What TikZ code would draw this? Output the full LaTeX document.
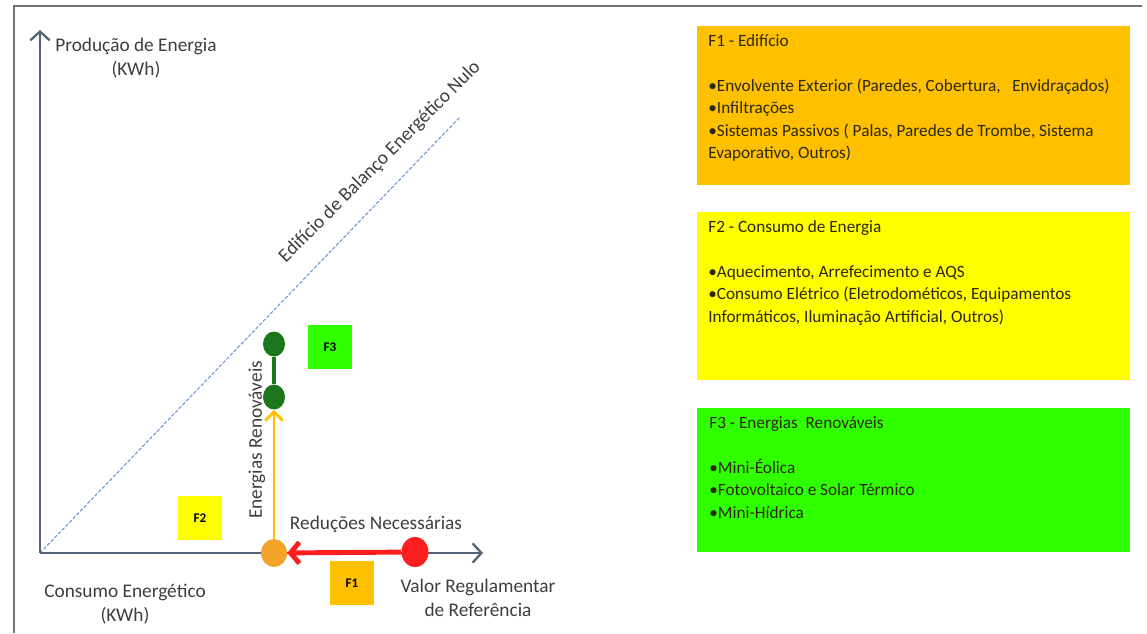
\documentclass[tikz,border=0pt]{standalone}
\usepackage{fontspec}
\setmainfont{Carlito}
\usepackage{tikz}
\usetikzlibrary{positioning, arrows.meta, shapes.geometric}
\definecolor{framegray}{RGB}{115,115,115}
\definecolor{axisgray}{RGB}{84,98,118}
\definecolor{diagblue}{RGB}{105,150,210}
\definecolor{labelgray}{RGB}{62,62,62}
\definecolor{fone}{RGB}{255,192,0}
\definecolor{ftwo}{RGB}{255,255,0}
\definecolor{fthree}{RGB}{48,255,0}
\definecolor{dotorange}{RGB}{242,165,40}
\definecolor{dotred}{RGB}{250,30,30}
\definecolor{dotgreen}{RGB}{28,118,28}
\definecolor{boxink}{RGB}{45,40,10}
\tikzset{
  axis/.style={draw=axisgray, line width=1.3pt, -{Straight Barb[length=5pt, width=11pt]}},
  diag/.style={draw=diagblue, line width=0.6pt, dashed, dash pattern=on 2pt off 1pt},
  dot/.style={ellipse, inner sep=0pt, draw=none},
  label/.style={text=labelgray, font=\fontsize{11}{13.5}\selectfont, align=center, inner sep=0pt},
  fbox/.style={rectangle, minimum size=0.88cm, inner sep=0pt, font=\fontsize{7.5}{8}\selectfont\bfseries},
  infobox/.style={rectangle, anchor=north west, minimum width=8.66cm, inner sep=0pt},
  infotext/.style={text=boxink, align=left, inner sep=0pt, font=\fontsize{9.8}{12.8}\selectfont},
}

\begin{document}
\begin{tikzpicture}[x=0.02cm, y=-0.02cm]
  \useasboundingbox (0,0) rectangle (1147,633);
  % frame
  \draw[framegray, line width=1.6pt] (14,633) -- (14,6) -- (1142,6);

  % axes
  \coordinate (O) at (40,553);
  \coordinate (ytop) at (40,30);
  \coordinate (xend) at (483,553);
  \coordinate (dtop) at (460,117);
  \draw[diag] (O) -- (dtop);
  \draw[axis] (O) -- (ytop);
  \draw[axis] (O) -- (xend);
  \node[label] (ylab) at (136,58) {Produção de Energia\\(KWh)};
  \node[label] (xlab) at (125,604) {Consumo Energético\\(KWh)};
  \node[label, rotate=45] (diaglab) at (380,162) {Edifício de Balanço Energético Nulo};

  % points
  \node[dot, fill=dotorange, minimum width=0.52cm, minimum height=0.56cm] (atual) at (274,553) {};
  \node[dot, fill=dotred, minimum width=0.54cm, minimum height=0.6cm] (regul) at (415,552) {};
  \node[dot, fill=dotgreen, minimum width=0.44cm, minimum height=0.5cm] (verdeA) at (274,397) {};
  \node[dot, fill=dotgreen, minimum width=0.44cm, minimum height=0.5cm] (verdeB) at (274,344) {};
  \draw[dotred, line width=2.8pt, -{Straight Barb[length=5pt, width=12pt]}] (regul) -- (atual);
  \draw[fone, line width=1.6pt, -{Straight Barb[length=5pt, width=10pt]}] (atual) -- (verdeA);
  \draw[dotgreen, line width=2.4pt] (verdeA) -- (verdeB);

  \node[label, rotate=90] (renov) at (257,440) {Energias Renováveis};
  \node[label] (reduc) at (376,524) {Reduções Necessárias};
  \node[label] (valor) at (478,598) {Valor Regulamentar\\de Referência};

  % small tags
  \node[fbox, fill=fone] (tagF1) at (352,583) {F1};
  \node[fbox, fill=ftwo] (tagF2) at (200,518) {F2};
  \node[fbox, fill=fthree] (tagF3) at (330,347) {F3};

  % legend boxes
  \node[infobox, fill=fone, minimum height=3.18cm] (boxF1) at (697,26) {};
  \node[infobox, fill=ftwo, minimum height=3.36cm] (boxF2) at (697,212) {};
  \node[infobox, fill=fthree, minimum height=2.88cm] (boxF3) at (697,408) {};
  \node[infotext, below right=0.16cm and 0.22cm of boxF1.north west] (txtF1)
    {F1 - Edifício\\[12.8pt]
     •Envolvente Exterior (Paredes, Cobertura,\ \ \ Envidraçados)\\
     •Infiltrações\\
     •Sistemas Passivos ( Palas, Paredes de Trombe, Sistema\\
     Evaporativo, Outros)};
  \node[infotext, below right=0.16cm and 0.22cm of boxF2.north west] (txtF2)
    {F2 - Consumo de Energia\\[12.8pt]
     •Aquecimento, Arrefecimento e AQS\\
     •Consumo Elétrico (Eletrodométicos, Equipamentos\\
     Informáticos, Iluminação Artificial, Outros)};
  \node[infotext, below right=0.16cm and 0.24cm of boxF3.north west] (txtF3)
    {F3 - Energias\ \ Renováveis\\[12.8pt]
     •Mini-Éolica\\
     •Fotovoltaico e Solar Térmico\\
     •Mini-Hídrica};
\end{tikzpicture}
\end{document}
